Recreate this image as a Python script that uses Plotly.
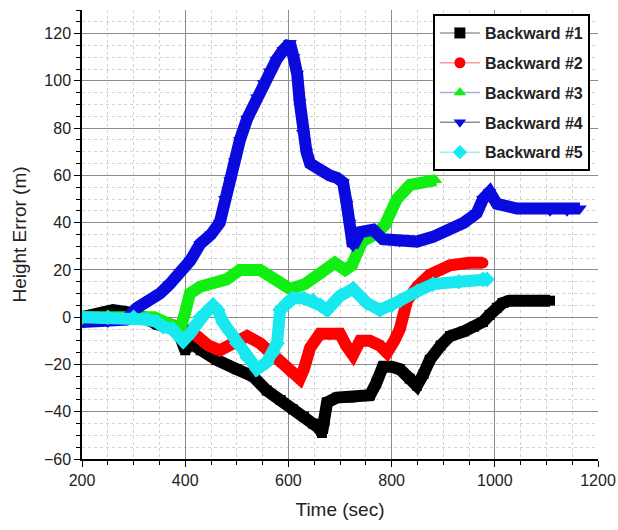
import plotly.graph_objects as go

# ---------------- data ----------------
names = ["Backward #1", "Backward #2", "Backward #3", "Backward #4", "Backward #5"]

b1_x = [200, 230, 260, 290, 320, 345, 370, 390, 400, 410, 430, 460, 500, 531, 558, 585, 609, 630, 648,
        660, 665, 670, 675, 694, 720, 758, 770, 783, 800, 816, 835, 849, 862, 874, 895, 913, 940, 960,
        977, 990, 1004, 1015, 1029, 1060, 1107]
b1_y = [0, 1, 3, 2, 0, -3, -4, -8, -14, -11, -14, -18, -22, -25, -31, -35, -39, -42, -45,
        -47, -49, -44, -36, -34, -34, -33, -28, -21, -21, -22, -26, -29, -24, -18, -12, -8, -6,
        -4, -2, 1, 4, 6, 7, 7, 7]

b2_x = [200, 250, 300, 340, 370, 400, 423, 445, 467, 490, 520, 545, 565, 584, 605, 622, 630, 642, 661,
        680, 700, 712, 725, 739, 758, 777, 791, 805, 816, 830, 850, 874, 913, 950, 977]
b2_y = [0, 0, 0, -1, -3, -5, -8, -12, -14, -11, -8, -11, -15, -19, -23, -26, -22, -13, -7,
        -7, -7, -12, -16, -10, -10, -12, -15, -10, -5, 7, 13, 18, 22, 23, 23]

b3_x = [200, 250, 300, 340, 360, 380, 390, 400, 409, 430, 458, 480, 506, 545, 574, 603, 632, 661, 690,
        710, 723, 743, 768, 787, 810, 836, 855, 874, 886]
b3_y = [0, 0, 0, 0, -2, -4, -5, 2, 10, 13, 14, 16, 20, 20, 16, 12, 14, 18, 23,
        20, 22, 32, 35, 39, 50, 56, 57, 58, 58]

b4_x = [200, 250, 285, 307, 330, 351, 370, 390, 410, 429, 450, 467, 477, 487, 496, 506, 520, 539, 552,
        564, 577, 590, 603, 610, 617, 622, 628, 635, 642, 661, 680, 694, 706, 713, 719, 725, 739, 764,
        783, 815, 849, 880, 913, 940, 965, 977, 990, 1004, 1043, 1080, 1107, 1140, 1165]
b4_y = [-2, -2, -1, 4, 7, 10, 14, 19, 24, 31, 35, 40, 50, 58, 66, 75, 84, 93, 99,
        104, 109, 113, 116, 110, 103, 91, 78, 70, 65, 62, 60, 59, 57, 48, 40, 30, 36, 37,
        33, 32, 32, 34, 37, 40, 44, 50, 53, 48, 46, 46, 45, 45, 46]

b5_x = [200, 250, 300, 326, 345, 357, 375, 396, 409, 420, 429, 440, 454, 463, 473, 486, 500, 520, 539,
        558, 570, 578, 584, 596, 609, 630, 648, 662, 675, 690, 700, 725, 752, 777, 800, 816, 850, 880,
        930, 977, 985]
b5_y = [0, 0, 0, -1, -2, -4, -5, -10, -7, -3, 0, 2, 5, 3, -2, -6, -11, -17, -22,
        -19, -15, -11, 3, 6, 8, 8, 7, 5, 3, 7, 9, 12, 6, 3, 5, 7, 11, 14,
        15, 16, 16]

xs = [b1_x, b2_x, b3_x, b4_x, b5_x]
ys = [b1_y, b2_y, b3_y, b4_y, b5_y]

# ---------------- styles ----------------
colors = ["#000000", "#ff0000", "#12ee12", "#0a0ade", "#18e8f0"]
legend_line = ["#9a9a9a", "#ff9a9a", "#9ab4d8", "#8a8aa8", "#9aeef4"]
symbols = ["square", "circle", "triangle-up", "triangle-down", "diamond"]
msizes = [10, 11, 11, 12, 12]

fig = go.Figure()
for i in range(5):
    fig.add_trace(go.Scatter(
        x=xs[i], y=ys[i], mode="lines+markers", showlegend=False,
        line=dict(color=colors[i], width=12),
        marker=dict(symbol=symbols[i], size=msizes[i], color=colors[i]),
    ))
for i in range(5):
    fig.add_trace(go.Scatter(
        x=[None], y=[None], mode="lines+markers", name=names[i],
        legendgroup=f"g{i}",
        line=dict(color=legend_line[i], width=1.5),
        marker=dict(symbol=symbols[i], size=11, color=colors[i]),
    ))

axis_common = dict(
    showline=True, linecolor="black", linewidth=1.5,
    ticks="outside", ticklen=6, tickwidth=1.2, tickcolor="black",
    showgrid=True, gridcolor="#8c8c8c", gridwidth=1,
    zeroline=False, mirror=False, automargin=False,
    tickfont=dict(family="Liberation Sans, Arial", size=16, color="#222"),
    minor=dict(ticks="outside", ticklen=4, tickcolor="black", showgrid=True,
               gridcolor="#d2d2d2", griddash="dot", gridwidth=1),
)

fig.update_xaxes(range=[200, 1200], dtick=200, tick0=200, **axis_common,
                 title=dict(text="Time (sec)", standoff=15,
                            font=dict(family="Liberation Sans, Arial", size=19, color="#222")))
fig.update_yaxes(range=[-60, 130], dtick=20, tick0=-60, **axis_common,
                 title=dict(text="Height Error (m)", standoff=12,
                            font=dict(family="Liberation Sans, Arial", size=19, color="#222")))

fig.update_layout(
    width=618, height=530,
    margin=dict(l=82, r=20, t=10, b=71),
    plot_bgcolor="white", paper_bgcolor="white",
    legend=dict(x=0.68, y=0.991, xanchor="left", yanchor="top",
                bgcolor="white", bordercolor="black", borderwidth=2,
                tracegroupgap=6, traceorder="grouped", itemwidth=40,
                font=dict(family="Liberation Sans, Arial", size=16, color="#222", weight="bold")),
)

# remove the default page margin so the figure sits at the window's top-left corner
fig.write_html("out.html",
               config={"displayModeBar": False},
               post_script="document.body.style.margin='0';document.body.style.overflow='hidden';")
